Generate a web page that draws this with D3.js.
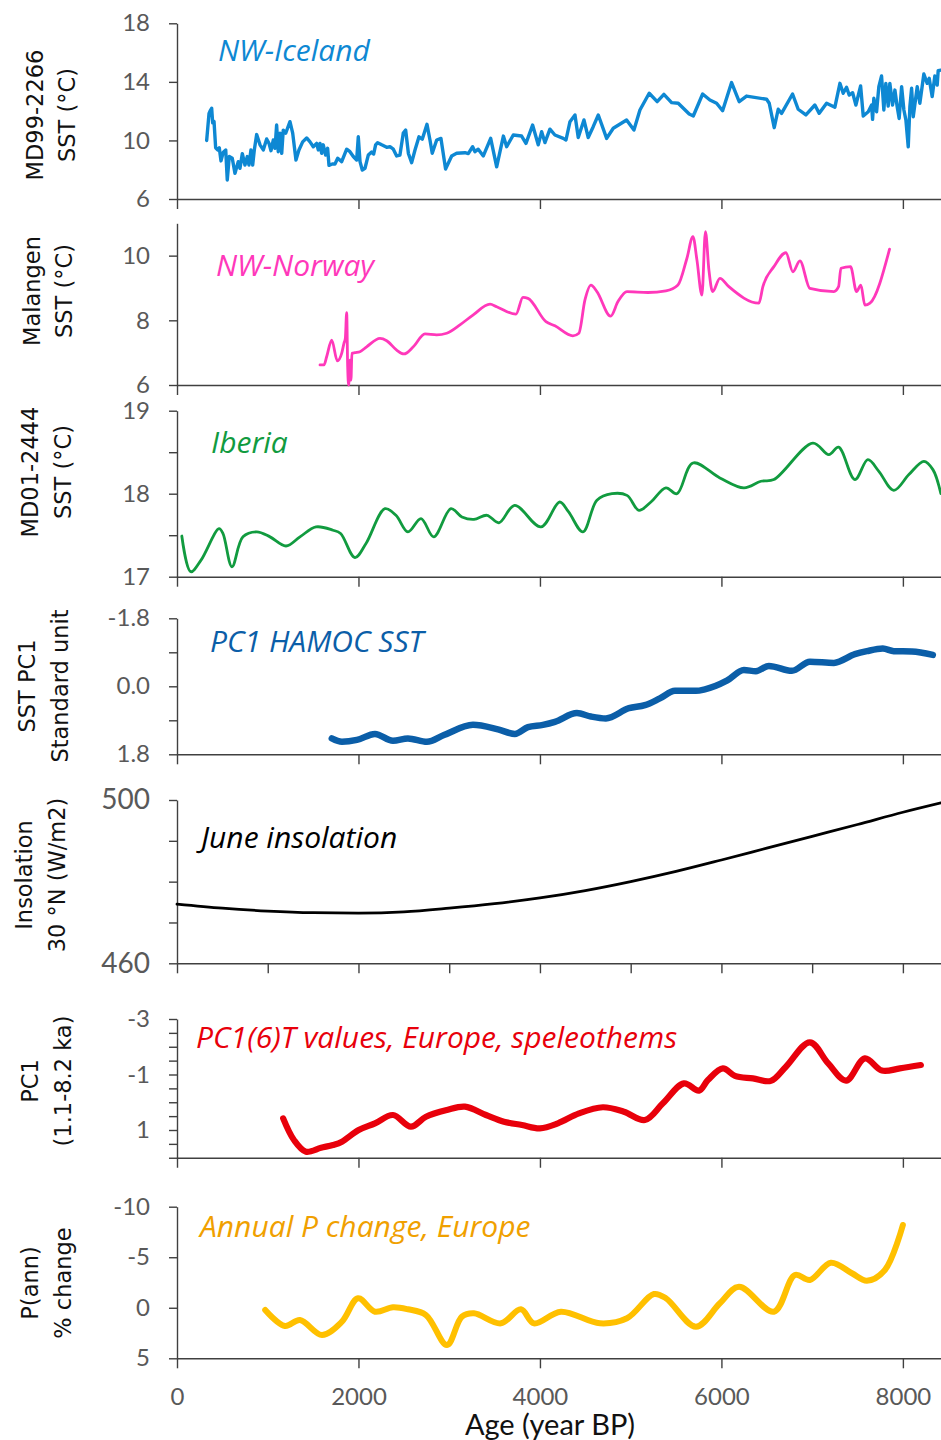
<!DOCTYPE html>
<html>
<head>
<meta charset="utf-8">
<script src="https://cdn.jsdelivr.net/npm/d3@7"></script>
<style>
  body { margin: 0; background: #fff; }
  .tick text { font-family: Lato, sans-serif; fill: #595959; }
  .axis path, .axis line { stroke: #404040; stroke-width: 1.4; }
  .ytitle { font-family: "DejaVu Sans", sans-serif; font-size: 22.5px; fill: #111; }
  .note { font-family: "Open Sans", sans-serif; font-style: italic; font-size: 30px; }
</style>
</head>
<body>
<div id="chart"></div>
<script>
// [year BP, value] pairs
var icelandSst = [[327,10.0],[353,11.85],[364,12.0],[382,12.2],[393,11.2],[408,11.3],[426,9.5],[448,9.35],[466,9.5],[485,8.6],[510,9.2],[537,9.35],[554,7.3],[576,8.9],[609,8.78],[639,7.75],[675,8.55],[694,8.1],[720,9.1],[749,8.32],[775,8.9],[793,8.32],[815,9.35],[834,8.32],[852,9.35],[878,10.4],[915,9.7],[951,9.35],[988,10.1],[1014,9.8],[1036,9.3],[1061,10.03],[1080,9.46],[1098,11.05],[1116,9.23],[1135,10.49],[1154,9.12],[1171,10.7],[1198,10.49],[1245,11.28],[1275,10.5],[1311,8.66],[1344,9.35],[1385,9.9],[1429,10.17],[1466,9.9],[1502,9.57],[1539,9.8],[1557,9.35],[1576,9.8],[1594,9.12],[1612,9.7],[1638,9.0],[1660,9.46],[1675,8.3],[1711,8.39],[1741,8.39],[1771,8.78],[1815,8.55],[1870,9.4],[1906,9.23],[1943,8.9],[1980,8.66],[1998,10.25],[2017,8.55],[2042,7.98],[2072,8.1],[2108,9.0],[2145,9.2],[2167,9.07],[2189,9.7],[2211,9.85],[2256,9.7],[2311,9.53],[2347,9.57],[2384,9.4],[2421,8.94],[2457,9.0],[2494,10.5],[2520,10.71],[2550,9.12],[2586,8.48],[2623,9.35],[2667,10.25],[2703,10.08],[2755,11.1],[2788,10.03],[2813,9.12],[2862,10.03],[2909,10.14],[2960,8.05],[3027,8.94],[3082,9.12],[3174,9.16],[3210,9.1],[3258,9.57],[3284,9.23],[3320,9.4],[3376,8.94],[3457,10.14],[3523,8.2],[3597,10.3],[3633,9.57],[3706,10.37],[3798,10.3],[3846,9.8],[3919,11.05],[3981,9.7],[4019,10.6],[4055,9.85],[4110,10.77],[4165,10.37],[4257,10.14],[4287,10.03],[4331,11.28],[4386,11.74],[4422,10.2],[4485,11.4],[4532,10.2],[4587,10.94],[4643,11.74],[4735,10.14],[4808,10.83],[4955,11.4],[5036,10.71],[5102,12.08],[5204,13.22],[5292,12.65],[5366,13.15],[5451,12.58],[5524,12.54],[5645,11.8],[5690,11.67],[5793,13.17],[5873,12.76],[5947,12.54],[6013,12.03],[6112,13.95],[6196,12.65],[6277,13.03],[6498,12.81],[6527,12.54],[6582,10.87],[6626,12.13],[6663,11.85],[6784,13.17],[6846,12.13],[6931,11.74],[7030,12.42],[7078,11.85],[7159,12.54],[7250,12.26],[7306,13.9],[7342,13.22],[7379,13.63],[7408,13.1],[7446,13.26],[7482,12.42],[7534,13.72],[7563,11.67],[7618,11.96],[7655,12.42],[7666,11.44],[7680,12.88],[7710,11.96],[7735,13.67],[7765,14.4],[7790,12.08],[7812,13.9],[7838,12.35],[7856,13.9],[7886,12.42],[7912,13.44],[7937,12.3],[7959,11.5],[7986,13.67],[8011,12.08],[8033,11.4],[8059,9.57],[8077,12.3],[8096,13.56],[8114,11.62],[8158,13.67],[8187,12.54],[8231,14.54],[8268,13.9],[8290,14.24],[8323,12.99],[8352,14.4],[8378,13.78],[8389,14.76],[8419,14.8]];

var norwaySst = [[1576,6.62],[1620,6.62],[1650,6.88],[1705,7.39],[1767,6.75],[1815,6.98],[1840,7.29],[1855,7.44],[1870,8.24],[1881,6.57],[1892,6.0],[1906,6.77],[1917,6.15],[1928,6.98],[1961,7.0],[2016,7.03],[2090,7.18],[2237,7.44],[2311,7.37],[2421,7.08],[2501,6.96],[2604,7.18],[2733,7.58],[2862,7.55],[2972,7.6],[3118,7.86],[3265,8.17],[3450,8.5],[3523,8.42],[3735,8.19],[3813,8.71],[3868,8.68],[4066,7.96],[4165,7.83],[4363,7.52],[4429,7.6],[4496,8.63],[4562,9.09],[4628,8.89],[4779,8.13],[4860,8.58],[4959,8.89],[5190,8.86],[5388,8.91],[5521,9.09],[5620,9.92],[5686,10.59],[5730,9.87],[5785,8.78],[5824,10.74],[5862,9.56],[5903,8.89],[5983,9.3],[6082,9.04],[6413,8.53],[6457,9.04],[6578,9.66],[6711,10.09],[6788,9.5],[6865,9.84],[6975,8.99],[7240,8.89],[7291,9.04],[7317,9.61],[7423,9.66],[7489,8.89],[7537,9.09],[7581,8.47],[7637,8.53],[7853,10.2]];

var iberiaSst = [[53,17.49],[152,17.06],[265,17.2],[463,17.58],[507,17.52],[606,17.12],[727,17.48],[879,17.54],[1025,17.48],[1201,17.37],[1355,17.48],[1532,17.6],[1719,17.56],[1803,17.52],[1961,17.23],[2083,17.4],[2292,17.82],[2413,17.74],[2545,17.54],[2689,17.7],[2829,17.48],[3019,17.82],[3140,17.72],[3273,17.69],[3416,17.74],[3548,17.65],[3721,17.86],[4011,17.6],[4217,17.9],[4316,17.78],[4474,17.54],[4628,17.92],[4793,18.0],[4959,17.98],[5091,17.8],[5223,17.9],[5388,18.07],[5510,18.0],[5686,18.37],[5983,18.19],[6248,18.07],[6435,18.15],[6578,18.17],[7008,18.61],[7184,18.47],[7291,18.56],[7471,18.17],[7614,18.41],[7735,18.27],[7900,18.04],[8066,18.23],[8232,18.39],[8331,18.29],[8419,18.0]];

var hamocPc1 = [[1706,1.38],[1818,1.47],[1983,1.42],[2182,1.26],[2380,1.44],[2545,1.38],[2755,1.47],[2942,1.29],[3262,1.02],[3537,1.14],[3724,1.26],[3868,1.08],[4033,1.02],[4165,0.94],[4408,0.71],[4562,0.8],[4727,0.85],[4981,0.58],[5157,0.5],[5322,0.32],[5488,0.12],[5719,0.12],[5818,0.08],[6060,-0.15],[6248,-0.43],[6380,-0.4],[6523,-0.54],[6777,-0.41],[6975,-0.65],[7240,-0.62],[7471,-0.85],[7603,-0.93],[7779,-1.0],[7900,-0.93],[8099,-0.92],[8330,-0.83]];

var juneInsolation = [[0,474.5],[500,473.5],[1000,472.8],[1500,472.4],[2000,472.3],[2500,472.6],[3000,473.5],[3500,474.6],[4000,476.0],[4500,477.8],[5000,480.0],[5500,482.5],[6000,485.3],[6500,488.2],[7000,491.1],[7500,494.0],[8000,497.0],[8420,499.3]];

var speleoPc1 = [[1170,0.58],[1289,1.36],[1421,1.78],[1587,1.64],[1719,1.54],[1818,1.42],[2002,1.0],[2182,0.76],[2380,0.46],[2578,0.88],[2744,0.52],[2975,0.28],[3173,0.16],[3405,0.46],[3603,0.7],[3802,0.82],[4000,0.94],[4198,0.76],[4430,0.4],[4694,0.18],[4925,0.34],[5157,0.64],[5355,0.04],[5587,-0.68],[5752,-0.42],[5851,-0.8],[6016,-1.22],[6149,-0.95],[6347,-0.86],[6545,-0.77],[6711,-1.28],[6975,-2.16],[7177,-1.4],[7375,-0.78],[7581,-1.58],[7769,-1.14],[7967,-1.22],[8198,-1.34]];

var precipChange = [[972,0.22],[1190,1.8],[1355,1.21],[1598,2.69],[1818,1.37],[1995,-0.94],[2182,0.39],[2380,-0.05],[2545,0.15],[2744,0.72],[2975,3.68],[3140,0.88],[3273,0.55],[3570,1.54],[3790,0.15],[3934,1.54],[4231,0.39],[4661,1.54],[4959,1.04],[5256,-1.36],[5388,-0.94],[5719,1.87],[5983,-0.44],[6193,-2.08],[6578,0.39],[6810,-3.24],[6975,-2.75],[7206,-4.46],[7438,-3.41],[7603,-2.68],[7802,-3.74],[8000,-8.19]];

var ageTicks = [0, 2000, 4000, 6000, 8000];
var ageTicksFine = [0, 1000, 2000, 3000, 4000, 5000, 6000, 7000, 8000];

var svgWidth = 941;
var svgHeight = 1440;

var svg = d3.select("#chart")
  .append("svg")
  .attr("width", svgWidth)
  .attr("height", svgHeight);

var x = d3.scaleLinear().domain([0, 8420]).range([177, 941]);

// one entry per stacked panel
var panels = [
  { data: icelandSst, domain: [6, 18], range: [199, 23.3], ticks: [6, 10, 14, 18], labels: [6, 10, 14, 18],
    fmt: d => d, color: "#0E88D3", lw: 3.4, curve: d3.curveLinear,
    title: ["MD99-2266", "SST (°C)"], tx: [43, 75], ty: 115,
    note: "NW-Iceland", nx: 218, ny: 61, xt: ageTicks },
  { data: norwaySst, domain: [6, 11], range: [385, 223.3], ticks: [6, 8, 10], labels: [6, 8, 10],
    fmt: d => d, color: "#FF38BA", lw: 2.8, curve: d3.curveMonotoneX,
    title: ["Malangen", "SST (°C)"], tx: [40, 72], ty: 291,
    note: "NW-Norway", nx: 216, ny: 276, xt: ageTicks },
  { data: iberiaSst, domain: [17, 19], range: [576.7, 410.7], ticks: [17, 17.5, 18, 18.5, 19], labels: [17, 18, 19],
    fmt: d => d, color: "#119B3F", lw: 2.8, curve: d3.curveCatmullRom,
    title: ["MD01-2444", "SST (°C)"], tx: [38, 71], ty: 472,
    note: "Iberia", nx: 211, ny: 453, xt: ageTicks },
  { data: hamocPc1, domain: [-1.8, 1.8], range: [618.3, 754.3], ticks: [-1.8, -0.9, 0, 0.9, 1.8], labels: [-1.8, 0, 1.8],
    fmt: d => d.toFixed(1), color: "#0B5EA8", lw: 6.5, curve: d3.curveMonotoneX,
    title: ["SST PC1", "Standard unit"], tx: [35, 68], ty: 686,
    note: "PC1 HAMOC SST", nx: 210, ny: 652, xt: ageTicks },
  { data: juneInsolation, domain: [460, 500], range: [963.3, 800], ticks: [460, 470, 480, 490, 500], labels: [460, 500],
    fmt: d => d, color: "#000000", lw: 2.8, curve: d3.curveMonotoneX, big: true,
    title: ["Insolation", "30 °N (W/m2)"], tx: [32, 65], ty: 875,
    note: "June insolation", nx: 201, ny: 848, xt: ageTicksFine },
  { data: speleoPc1, domain: [-3, 2], range: [1019, 1157.75], ticks: [-3, -2.5, -2, -1.5, -1, -0.5, 0, 0.5, 1, 1.5, 2], labels: [-3, -1, 1],
    fmt: d => String(d), color: "#E8000B", lw: 6.2, curve: d3.curveCatmullRom,
    title: ["PC1", "(1.1-8.2 ka)"], tx: [38, 71], ty: 1081,
    note: "PC1(6)T values, Europe, speleothems", nx: 196, ny: 1048, xt: ageTicks },
  { data: precipChange, domain: [-10, 5], range: [1206.7, 1358.3], ticks: [-10, -5, 0, 5], labels: [-10, -5, 0, 5],
    fmt: d => String(d), color: "#FFC000", noteColor: "#F0A000", lw: 6, curve: d3.curveCatmullRom,
    title: ["P(ann)", "% change"], tx: [38, 71], ty: 1283,
    note: "Annual P change, Europe", nx: 200, ny: 1237, xt: ageTicks, last: true }
];

panels.forEach(function(p) {
  var y = d3.scaleLinear().domain(p.domain).range(p.range);
  var bottom = Math.max(p.range[0], p.range[1]);

  // y axis
  var yAxis = svg.append("g")
    .attr("class", "axis")
    .attr("transform", `translate(${x(0)}, 0)`)
    .call(d3.axisLeft(y)
      .tickValues(p.ticks)
      .tickSize(8)
      .tickSizeOuter(0)
      .tickPadding(19)
      .tickFormat(d => p.labels.indexOf(d) >= 0 ? p.fmt(d) : ""));
  yAxis.selectAll("text").style("font-size", p.big ? "28px" : "24px");

  // x axis
  var xAxis = svg.append("g")
    .attr("class", "axis")
    .attr("transform", `translate(0, ${bottom})`)
    .call(d3.axisBottom(x)
      .tickValues(p.xt)
      .tickSize(10)
      .tickSizeOuter(0)
      .tickPadding(20)
      .tickFormat(p.last ? d => d : ""));
  xAxis.selectAll("text").style("font-size", "24px");

  // series line
  var line = d3.line()
    .x(d => x(d[0]))
    .y(d => y(d[1]))
    .curve(p.curve);

  svg.append("path")
    .datum(p.data)
    .attr("d", line)
    .attr("fill", "none")
    .attr("stroke", p.color)
    .attr("stroke-width", p.lw)
    .attr("stroke-linejoin", "round")
    .attr("stroke-linecap", "round");

  // italic series label
  svg.append("text")
    .attr("class", "note")
    .attr("x", p.nx)
    .attr("y", p.ny)
    .attr("fill", p.noteColor || p.color)
    .text(p.note);

  // two-line rotated y title
  p.title.forEach(function(t, i) {
    svg.append("text")
      .attr("class", "ytitle")
      .attr("transform", `translate(${p.tx[i]}, ${p.ty}) rotate(-90)`)
      .attr("text-anchor", "middle")
      .text(t);
  });
});

// shared x title
svg.append("text")
  .attr("x", 550)
  .attr("y", 1435)
  .attr("text-anchor", "middle")
  .style("font-family", "Lato, sans-serif")
  .style("font-size", "29px")
  .attr("fill", "#111")
  .text("Age (year BP)");
</script>
</body>
</html>
